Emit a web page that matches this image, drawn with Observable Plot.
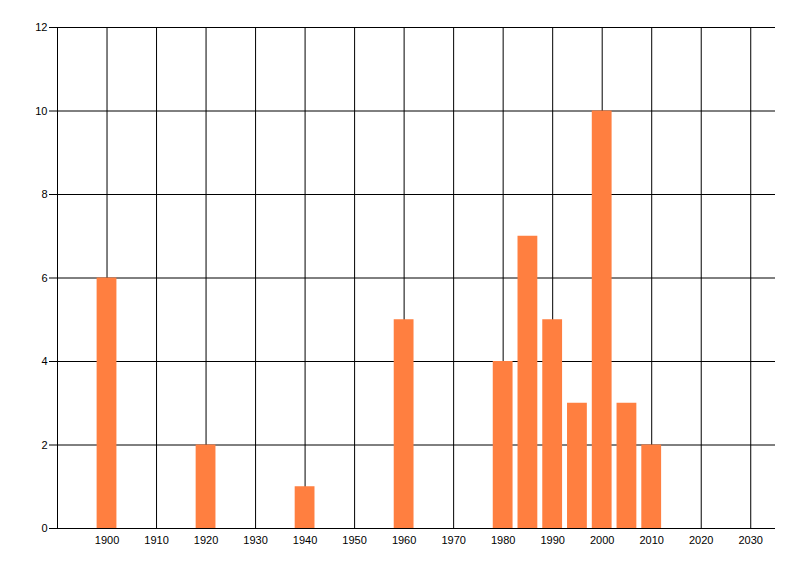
<!DOCTYPE html>
<html>
<head>
<meta charset="utf-8">
<script src="https://cdn.jsdelivr.net/npm/d3@7"></script>
<script src="https://cdn.jsdelivr.net/npm/@observablehq/plot@0.6"></script>
<style>
  html, body { margin: 0; padding: 0; background: white; }
</style>
</head>
<body>
<div id="chart"></div>
<script>
const years = [1900, 1920, 1940, 1960, 1980, 1985, 1990, 1995, 2000, 2005, 2010];
const values = [6, 2, 1, 5, 4, 7, 5, 3, 10, 3, 2];
const xTicks = [1900, 1910, 1920, 1930, 1940, 1950, 1960, 1970, 1980, 1990, 2000, 2010, 2020, 2030];
const yTicks = [0, 2, 4, 6, 8, 10, 12];

const data = years.map((year, i) => ({year, value: values[i]}));

const chart = Plot.plot({
  width: 800,
  height: 576,
  marginLeft: 57,
  marginRight: 25,
  marginTop: 27,
  marginBottom: 48,
  x: {domain: [1890, 2035]},
  y: {domain: [0, 12]},
  style: {fontFamily: "'Liberation Sans', Arial, sans-serif", fontSize: "11px", background: "white", color: "black"},
  marks: [
    Plot.gridX(xTicks, {stroke: "black", strokeOpacity: 1}),
    Plot.gridY(yTicks, {stroke: "black", strokeOpacity: 1}),
    Plot.frame({anchor: "left", stroke: "black"}),
    Plot.rectY(data, {x1: d => d.year - 2, x2: d => d.year + 2, y: "value", fill: "#FF7F40"}),
    Plot.ruleY([0], {stroke: "black"}),
    Plot.axisX(xTicks, {tickSize: 0, tickPadding: 8, label: null, tickFormat: d => String(d)}),
    Plot.axisY(yTicks, {tickSize: 8, tickPadding: 2, label: null})
  ]
});
document.getElementById("chart").appendChild(chart);
</script>
</body>
</html>
